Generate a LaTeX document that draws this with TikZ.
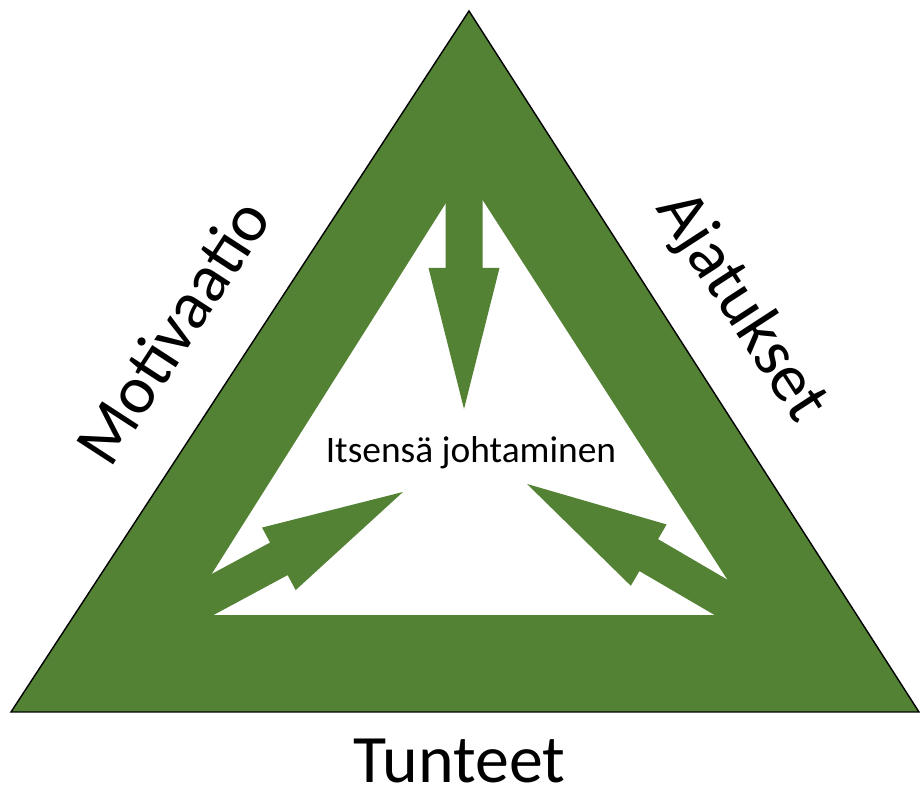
\documentclass[tikz,border=0pt]{standalone}
\usepackage{fontspec}
\setmainfont{Carlito}
\usepackage{tikz}
\usetikzlibrary{positioning}
\definecolor{framegreen}{RGB}{84,130,53}
\tikzset{
  outertri/.style={
    fill=framegreen,
    draw=black,
    line width=0.4pt,
    line join=miter
  },
  innertri/.style={
    fill=white,
    draw=none
  },
  arrowfill/.style={
    fill=framegreen,
    draw=none
  },
  bigarrow/.pic={
    \fill[arrowfill] (0,0) -- (-1.41,0.355) -- (-1.41,0.185) -- (-3.0,0.185)
      -- (-3.0,-0.185) -- (-1.41,-0.185) -- (-1.41,-0.355) -- cycle;
  },
  sidelabel/.style={
    font=\fontsize{19.3}{23}\selectfont,
    text=black,
    inner sep=0pt,
    anchor=base
  },
  centerlabel/.style={
    font=\fontsize{10.65}{13}\selectfont,
    text=black,
    inner sep=0pt,
    anchor=base
  }
}

\begin{document}
\begin{tikzpicture}
  \useasboundingbox (0,0) rectangle (9.2,7.89);

  % ------------------------------------------------------------------
  % Green frame
  % ------------------------------------------------------------------
  \coordinate (oL) at (0.11,0.77);
  \coordinate (oT) at (4.69,7.78);
  \coordinate (oR) at (9.19,0.77);
  \draw[outertri] (oL) -- (oT) -- (oR) -- cycle;

  \coordinate (iL) at (1.86,1.74);
  \coordinate (iT) at (4.65,6.16);
  \coordinate (iR) at (7.50,1.74);
  \fill[innertri] (iL) -- (iT) -- (iR) -- cycle;

  % ------------------------------------------------------------------
  % Arrows towards the centre
  % ------------------------------------------------------------------
  \pic[rotate=-90] at (4.64,3.80) {bigarrow};
  \pic[rotate=28.3] at (4.03,2.97) {bigarrow};
  \pic[rotate=149.7] at (5.27,3.05) {bigarrow};

  % ------------------------------------------------------------------
  % Labels
  % ------------------------------------------------------------------
  \node[centerlabel] (self) at (4.71,3.26) {Itsensä johtaminen};
  \node[sidelabel, rotate=57] (motiv) at (1.916,4.454) {Motivaatio};
  \node[sidelabel, rotate=-57] (ajat) at (7.26,4.72) {Ajatukset};
  \node[sidelabel] (tunteet) at (4.595,0.06) {Tunteet};
\end{tikzpicture}
\end{document}
